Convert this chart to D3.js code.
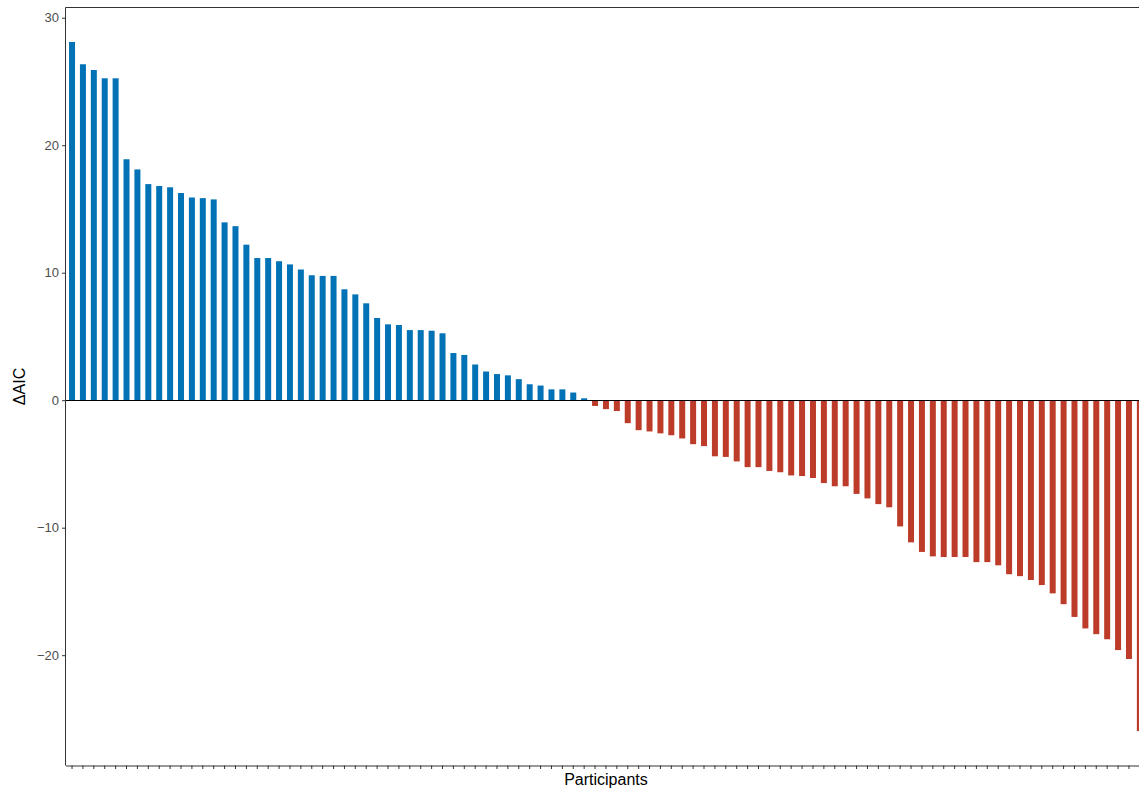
<!DOCTYPE html>
<html>
<head>
<meta charset="utf-8">
<script src="https://cdn.jsdelivr.net/npm/d3@7"></script>
<style>
  html, body { margin: 0; padding: 0; background: #fff; }
  svg { display: block; font-family: "Liberation Sans", Arial, Helvetica, sans-serif; }
</style>
</head>
<body>
<svg id="chart" width="1139" height="788"></svg>
<script>
// ---- data ----
const deltaAIC = [
  28.1, 26.35, 25.9, 25.25, 25.25, 18.9, 18.1, 16.95, 16.8, 16.7,
  16.25, 15.9, 15.85, 15.75, 13.95, 13.65, 12.2, 11.15, 11.15, 10.9,
  10.65, 10.25, 9.8, 9.75, 9.75, 8.7, 8.3, 7.6, 6.45, 5.95,
  5.9, 5.5, 5.5, 5.45, 5.25, 3.7, 3.55, 2.8, 2.25, 2.05,
  1.95, 1.65, 1.25, 1.15, 0.85, 0.85, 0.6, 0.15, -0.45, -0.7,
  -0.85, -1.8, -2.35, -2.45, -2.6, -2.75, -3.0, -3.45, -3.6, -4.4,
  -4.45, -4.8, -5.25, -5.25, -5.55, -5.65, -5.9, -5.95, -6.1, -6.5,
  -6.75, -6.75, -7.35, -7.7, -8.15, -8.4, -9.9, -11.15, -11.9, -12.25,
  -12.3, -12.3, -12.3, -12.7, -12.7, -12.95, -13.65, -13.8, -14.1, -14.5,
  -15.15, -16.0, -17.0, -17.9, -18.35, -18.75, -19.6, -20.3, -25.95
];
const participants = deltaAIC.map((d, i) => "P" + (i + 1));
const yTicks = [-20, -10, 0, 10, 20, 30];
const xTitle = "Participants";
const yTitle = "\u0394AIC";
const colorPositive = "#0072B5";
const colorNegative = "#BC3C29";

// ---- layout ----
const svg = d3.select("#chart");
const pLeft = 65.5, pTop = 7.5, pBottom = 765.5, pRight = 1146.4;

const x = d3.scaleBand()
  .domain(participants)
  .range([pLeft, pRight])
  .paddingInner(0)
  .paddingOuter(0.1);

const yMin = d3.min(deltaAIC), yMax = d3.max(deltaAIC);
const pad = (yMax - yMin) * 0.05;
const y = d3.scaleLinear()
  .domain([yMin - pad, yMax + pad])
  .range([pBottom, pTop]);

const barW = x.bandwidth() * 0.55;

// bars
svg.append("g").selectAll("rect")
  .data(deltaAIC)
  .join("rect")
  .attr("x", (d, i) => x(participants[i]) + x.bandwidth() / 2 - barW / 2)
  .attr("width", barW)
  .attr("y", d => y(Math.max(0, d)))
  .attr("height", d => Math.abs(y(d) - y(0)))
  .attr("fill", d => d >= 0 ? colorPositive : colorNegative);

// zero line
svg.append("line")
  .attr("x1", pLeft).attr("x2", pRight)
  .attr("y1", Math.round(y(0)) + 0.5).attr("y2", Math.round(y(0)) + 0.5)
  .attr("stroke", "#000").attr("stroke-width", 1.1);

// panel border (top & right)
svg.append("path")
  .attr("d", `M${pLeft},${pTop}H${pRight}V${pBottom}`)
  .attr("fill", "none").attr("stroke", "#333").attr("stroke-width", 1);

// y axis
const yAxis = svg.append("g")
  .attr("transform", `translate(${pLeft},0)`)
  .call(d3.axisLeft(y).tickValues(yTicks).tickSize(3.5).tickPadding(3)
    .tickFormat(d => d < 0 ? "\u2212" + Math.abs(d) : String(d)));
yAxis.select(".domain").attr("stroke", "#333").attr("d", `M0,${pTop}V${pBottom}`);
yAxis.selectAll(".tick line").attr("stroke", "#333");
yAxis.selectAll(".tick text").attr("fill", "#4D4D4D").style("font-size", "13px")
  .style("font-family", '"Liberation Sans", Arial, sans-serif');

// x axis
const xAxis = svg.append("g")
  .attr("transform", `translate(0,${pBottom})`)
  .call(d3.axisBottom(x).tickSize(3.5).tickSizeOuter(0).tickFormat(""));
xAxis.select(".domain").attr("stroke", "#333");
xAxis.selectAll(".tick line").attr("stroke", "#333");

// titles
svg.append("text")
  .attr("x", (pLeft + pRight) / 2).attr("y", 785)
  .attr("text-anchor", "middle")
  .style("font-size", "16px").attr("fill", "#000")
  .text(xTitle);

svg.append("text")
  .attr("transform", `translate(25,${(pTop + pBottom) / 2}) rotate(-90)`)
  .attr("text-anchor", "middle")
  .style("font-size", "16px").attr("fill", "#000")
  .text(yTitle);
</script>
</body>
</html>
